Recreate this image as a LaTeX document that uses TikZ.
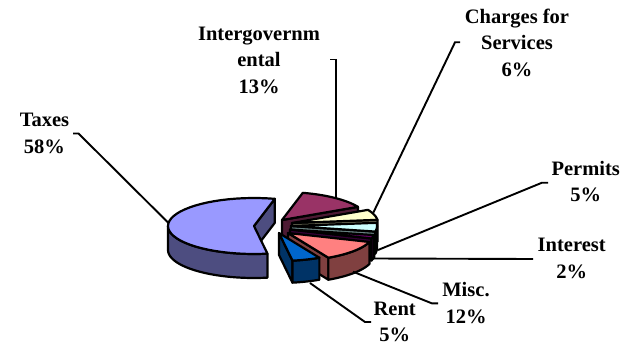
\documentclass[tikz,border=0pt]{standalone}
\usepackage{fontspec}
\setmainfont{Liberation Serif}
\definecolor{taxtop}{HTML}{9999FF}\definecolor{taxside}{HTML}{4D4D80}
\definecolor{igtop}{HTML}{993366}\definecolor{igside}{HTML}{4D1A33}
\definecolor{chtop}{HTML}{FFFFCC}\definecolor{chside}{HTML}{808066}
\definecolor{pmtop}{HTML}{CCFFFF}\definecolor{pmside}{HTML}{668080}
\definecolor{intop}{HTML}{660066}\definecolor{inside}{HTML}{330033}
\definecolor{mitop}{HTML}{FF8080}\definecolor{miside}{HTML}{804040}
\definecolor{retop}{HTML}{0066CC}\definecolor{reside}{HTML}{003366}
\newcommand\pieRX{86}
\newcommand\pieRY{28}
% radial cut face: px py theta depth colour
\newcommand\radface[5]{\filldraw[pieline,fill=#5] (#1,#2) -- ({#1+\pieRX*sin(#3)},{#2-\pieRY*cos(#3)}) -- ++(0,#4) -- ({#1},{#2+#4}) -- cycle;}
% outer wall: px py a b depth colour
\newcommand\outwall[6]{\filldraw[pieline,fill=#6] plot[domain=#3:#4,samples=30] ({#1+\pieRX*sin(\x)},{#2-\pieRY*cos(\x)}) -- plot[domain=#4:#3,samples=30] ({#1+\pieRX*sin(\x)},{#2+#5-\pieRY*cos(\x)}) -- cycle;}
% top face: px py a b colour
\newcommand\topface[5]{\filldraw[pieline,fill=#5] (#1,#2) -- plot[domain=#3:#4,samples=40] ({#1+\pieRX*sin(\x)},{#2-\pieRY*cos(\x)}) -- cycle;}
\begin{document}
\begin{tikzpicture}[x=1pt,y=-1pt,
  pieline/.style={draw=black,line width=2.2pt,line join=round},
  leader/.style={draw=black,line width=1.9pt},
  lbl/.style={anchor=base,inner sep=0pt,font=\fontsize{20.5}{26.5}\selectfont\bfseries}]
\useasboundingbox[fill=white] (0,0) rectangle (624,345);
% Intergovernmental
\radface{282}{220}{62}{22}{igside}
\topface{282}{220}{14}{62}{igtop}
% Charges for Services
\radface{292}{223}{83.5}{22}{chside}
\topface{292}{223}{62}{83.5}{chtop}
% Permits
\radface{291}{226}{101.5}{22}{pmside}
\outwall{291}{226}{90}{101.5}{22}{pmside}
\topface{291}{226}{83.5}{101.5}{pmtop}
% Interest
\radface{290}{229.5}{108.7}{22}{inside}
\outwall{290}{229.5}{101.5}{108.7}{22}{inside}
\topface{290}{229.5}{101.5}{108.7}{intop}
% Misc.
\radface{288}{233}{152}{22}{miside}
\outwall{288}{233}{108.7}{152}{22}{miside}
\topface{288}{233}{108.7}{152}{mitop}
% Rent
\radface{279}{233}{171}{22}{reside}
\outwall{279}{233}{152}{171}{22}{reside}
\topface{279}{233}{152}{171}{retop}
% Taxes
\radface{254}{226}{374}{24}{taxside}
\outwall{254}{226}{171}{270}{24}{taxside}
\topface{254}{226}{171}{374}{taxtop}

% labels
\node[lbl] (taxes) at (44.5,126.7) {\begin{tabular}[t]{@{}c@{}}Taxes\\58\%\end{tabular}};
\node[lbl] (intergov) at (259,40.5) {\begin{tabular}[t]{@{}c@{}}Intergovernm\\ental\\13\%\end{tabular}};
\node[lbl] (charges) at (517,23.3) {\begin{tabular}[t]{@{}c@{}}Charges for\\Services\\6\%\end{tabular}};
\node[lbl] (permits) at (585.7,175) {\begin{tabular}[t]{@{}c@{}}Permits\\5\%\end{tabular}};
\node[lbl] (interest) at (571.7,251.7) {\begin{tabular}[t]{@{}c@{}}Interest\\2\%\end{tabular}};
\node[lbl] (misc) at (466,296.7) {\begin{tabular}[t]{@{}c@{}}Misc.\\12\%\end{tabular}};
\node[lbl] (rent) at (394.7,315) {\begin{tabular}[t]{@{}c@{}}Rent\\5\%\end{tabular}};

% leader lines
\coordinate (taxes-s) at (73,133.5);   \coordinate (taxes-k) at (78.5,133.5);   \coordinate (taxes-e) at (168.5,223);
\coordinate (ig-s) at (330,59.5);      \coordinate (ig-k) at (335.7,59.5);      \coordinate (ig-e) at (335.7,198);
\coordinate (ch-s) at (460,42.3);      \coordinate (ch-k) at (455,42.3);        \coordinate (ch-e) at (373.3,212.7);
\coordinate (pm-s) at (548,182.7);     \coordinate (pm-k) at (542,182.7);       \coordinate (pm-e) at (378,250);
\coordinate (in-s) at (533,259);       \coordinate (in-e) at (373,258.5);
\coordinate (mi-s) at (438,303.3);     \coordinate (mi-k) at (431.7,303.3);     \coordinate (mi-e) at (353,271.7);
\coordinate (re-s) at (371,322);       \coordinate (re-k) at (365,322);         \coordinate (re-e) at (310,283);
\draw[leader] (taxes-s) -- (taxes-k) -- (taxes-e);
\draw[leader] (ig-s) -- (ig-k) -- (ig-e);
\draw[leader] (ch-s) -- (ch-k) -- (ch-e);
\draw[leader] (pm-s) -- (pm-k) -- (pm-e);
\draw[leader] (in-s) -- (in-e);
\draw[leader] (mi-s) -- (mi-k) -- (mi-e);
\draw[leader] (re-s) -- (re-k) -- (re-e);
\end{tikzpicture}
\end{document}
